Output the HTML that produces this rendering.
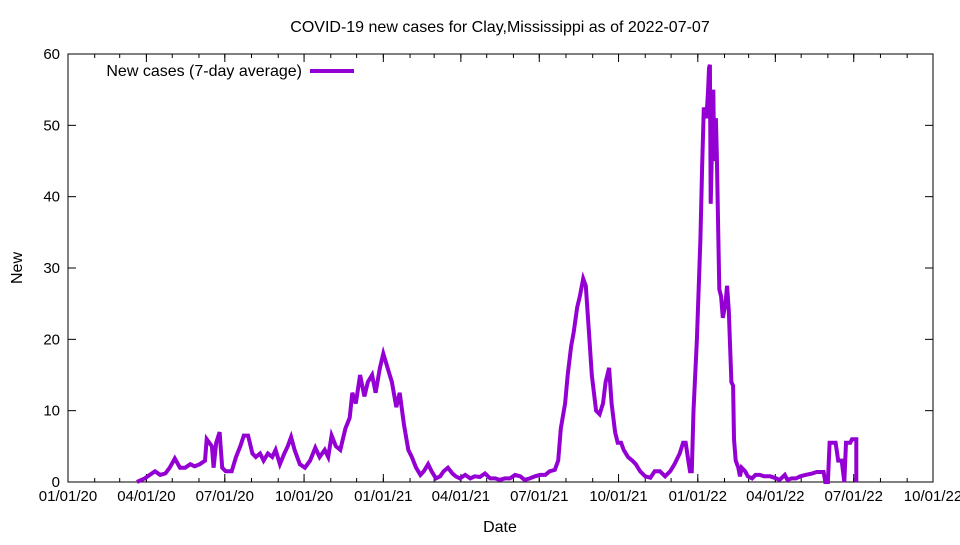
<!DOCTYPE html>
<html><head><meta charset="utf-8"><style>
body{margin:0;background:#fff;}
svg text{font-family:"Liberation Sans",sans-serif;font-size:16px;fill:#000;}
svg text.tick{font-size:15px;}
</style></head><body>
<svg id="chart" width="960" height="540" xmlns="http://www.w3.org/2000/svg">
<text x="500" y="32" text-anchor="middle">COVID-19 new cases for Clay,Mississippi as of 2022-07-07</text>
<text transform="translate(22,268) rotate(-90)" text-anchor="middle">New</text>
<text x="500" y="532" text-anchor="middle">Date</text>
<g id="axes"></g>
<g id="series"></g>
<g>
<text x="302" y="76" text-anchor="end">New cases (7-day average)</text>
<line x1="310" y1="71" x2="354" y2="71" stroke="#9400d3" stroke-width="4"/>
</g>
</svg>
<script>
const days=[80,89,95,101,107,113,118,124,130,136,142,147,153,159,161,167,169,172,176,179,183,190,195,200,204,209,214,218,223,227,232,237,241,246,251,255,259,263,269,275,281,287,292,298,302,306,311,316,322,327,330,334,339,344,348,353,357,362,366,371,376,381,385,390,395,399,404,409,413,418,422,427,432,436,441,446,450,455,461,467,472,478,484,490,496,501,507,513,519,525,530,536,542,548,554,559,565,569,572,577,580,584,587,591,594,598,601,605,608,613,617,621,624,628,631,635,638,642,645,650,655,659,664,670,676,681,687,693,699,704,710,714,717,720,722,724,726,730,734,736,738,741,743,744,745,746,749,750,752,753,756,758,760,763,765,767,770,772,773,775,778,780,782,786,789,794,798,803,808,815,822,826,832,835,840,845,850,856,864,869,877,879,882,884,891,894,898,901,903,908,910,915,915];
const values=[0,0.5,1,1.5,1,1.2,2,3.3,2,2,2.5,2.2,2.5,3,6,5,2,5.5,7,2,1.5,1.5,3.5,5,6.5,6.5,4,3.5,4,3,4,3.5,4.5,2.5,4,5,6.3,4.5,2.5,2,3,4.8,3.5,4.5,3.5,6.5,5,4.5,7.5,9,12.5,11,15,12,14,15,12.5,16,18,16,14,10.5,12.5,8,4.5,3.5,2,1,1.5,2.5,1.5,0.5,0.8,1.5,2,1.2,0.8,0.5,1,0.5,0.8,0.7,1.2,0.5,0.5,0.3,0.5,0.5,1,0.8,0.3,0.5,0.8,1,1,1.5,1.7,3,7.5,11,15,19,21,24.5,26,28.5,27.5,20.5,15,10,9.5,11,14,16,11,7,5.5,5.5,4.5,3.5,3,2.5,1.5,0.8,0.6,1.5,1.5,0.8,1.5,2.5,4,5.5,5.5,3,1.5,1.5,10,20,34,44,52.5,51,55,58,58.5,39,55,45,51,46,27,26,23,25,27.5,24,14,13.5,6,3,2,0.8,2,1.5,0.8,0.5,1,1,0.8,0.8,0.5,0.3,1,0.3,0.5,0.5,0.8,1,1.2,1.4,1.4,0,0,5.5,5.5,3,3,0,5.5,5.5,6,6,0];
const yTicks=[0,10,20,30,40,50,60];
const xTickDays=[0,91,182,274,366,456,547,639,731,821,912,1004];
const xTickLabels=["01/01/20","04/01/20","07/01/20","10/01/20","01/01/21","04/01/21","07/01/21","10/01/21","01/01/22","04/01/22","07/01/22","10/01/22"];
const L=68,R=933,T=54,B=482,NS="http://www.w3.org/2000/svg";
const xs=d=>L+(R-L)*d/1004, ys=v=>B-(B-T)*v/60;
const axes=document.getElementById('axes');
function mk(tag,attrs,parent){const e=document.createElementNS(NS,tag);for(const k in attrs)e.setAttribute(k,attrs[k]);parent.appendChild(e);return e;}
const frame=mk('rect',{x:L,y:T,width:R-L,height:B-T,fill:'none',stroke:'#000','stroke-width':1},axes);


yTicks.forEach(v=>{
 const y=ys(v);
 mk('line',{x1:L,y1:y,x2:L+8,y2:y,stroke:'#000'},axes);
 mk('line',{x1:R,y1:y,x2:R-8,y2:y,stroke:'#000'},axes);
 const t=mk('text',{x:L-8,y:y+5,'text-anchor':'end','class':'tick'},axes);t.textContent=v;
 
 
});
for(let m=0;m<=33;m++){
 const dt=new Date(Date.UTC(2020,m,1));const d=(dt-Date.UTC(2020,0,1))/864e5;
 const x=xs(d);
 mk('line',{x1:x,y1:B,x2:x,y2:B-4,stroke:'#000'},axes);
 mk('line',{x1:x,y1:T,x2:x,y2:T+4,stroke:'#000'},axes);
}
xTickDays.forEach((d,i)=>{
 const x=xs(d);
 mk('line',{x1:x,y1:B,x2:x,y2:B-8,stroke:'#000'},axes);
 mk('line',{x1:x,y1:T,x2:x,y2:T+8,stroke:'#000'},axes);
 const t=mk('text',{x:x,y:B+19,'text-anchor':'middle','class':'tick'},axes);t.textContent=xTickLabels[i];
 
 
});
const pts=days.map((d,i)=>xs(d).toFixed(1)+','+ys(values[i]).toFixed(1)).join(' ');
const pl=mk('polyline',{points:pts,fill:'none',stroke:'#9400d3','stroke-width':4,'stroke-linejoin':'miter'},document.getElementById('series'));


</script>
</body></html>
